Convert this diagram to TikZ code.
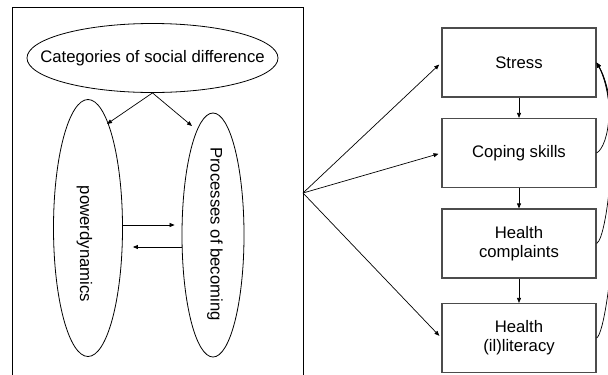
\documentclass[tikz,border=0pt]{standalone}
\usepackage{fontspec}
\setmainfont{Liberation Sans}
\usetikzlibrary{arrows.meta,shapes.geometric,calc}
\begin{document}
\begin{tikzpicture}[x=1bp,y=-1bp,
  font=\fontsize{16.7bp}{19bp}\selectfont,
  arr/.style={-{Triangle[length=5bp,width=4bp]},line width=0.7bp},
  ell/.style={ellipse,draw,line width=0.8bp,inner sep=0pt},
  box/.style={rectangle,draw=black!70,line width=1.2bp,minimum width=154bp,minimum height=69bp,align=center,inner sep=0pt},
  lbl/.style={inner sep=0pt}]
\useasboundingbox (0,0) rectangle (608,374);
\clip (0,0) rectangle (608,374);
% frame
\draw[line width=0.9bp] (12,390) -- (12,7) -- (303,7) -- (303,390);
\coordinate (fan) at (303,193);
% ellipses
\node[ell,minimum width=251bp,minimum height=69bp] (cat) at (152.5,58) {};
\node[lbl] (catt) at (cat.center) {Categories of social difference};
\node[ell,minimum width=69bp,minimum height=257bp] (pd) at (88,228) {};
\node[ell,minimum width=62bp,minimum height=244bp] (pb) at (213,235) {};
\node[lbl,rotate=-90] (pdt) at (84.5,244) {powerdynamics};
\node[lbl,rotate=-90] (pbt) at (215,234) {Processes of becoming};
% arrows left part
\draw[arr] (cat.south) -- ($(pd.center)+(19,-104)$);
\draw[arr] (cat.south) -- ($(pb.center)+(-21,-109)$);
\draw[arr,shorten >=7bp] (pd.east |- 0,225) -- (pb.west |- 0,225);
\draw[arr,shorten >=10bp] (pb.west |- 0,247) -- (pd.east |- 0,247);
% boxes
\node[box] (s) at (519,62.5) {Stress};
\node[box] (c) at (519,153) {Coping skills};
\node[box] (h) at (519,243.5) {Health\\complaints};
\node[box] (l) at (519,338) {Health\\(il)literacy};
\draw[arr] (s) -- (c);
\draw[arr] (c) -- (h);
\draw[arr] (h) -- (l);
% fan
\draw[arr,shorten >=3bp] (fan) -- (s.west);
\draw[arr,shorten >=3bp] (fan) -- (c.west);
\draw[arr,shorten >=3bp] (fan) -- (l.west);
% feedback curves
\draw[arr] (c.east) .. controls (610,145) and (615,95) .. (s.east);
\draw[arr] (h.east) .. controls (608,238) and (622,110) .. (s.east);
\draw[arr] (l.east) .. controls (610,330) and (630,120) .. (s.east);
\end{tikzpicture}
\end{document}
